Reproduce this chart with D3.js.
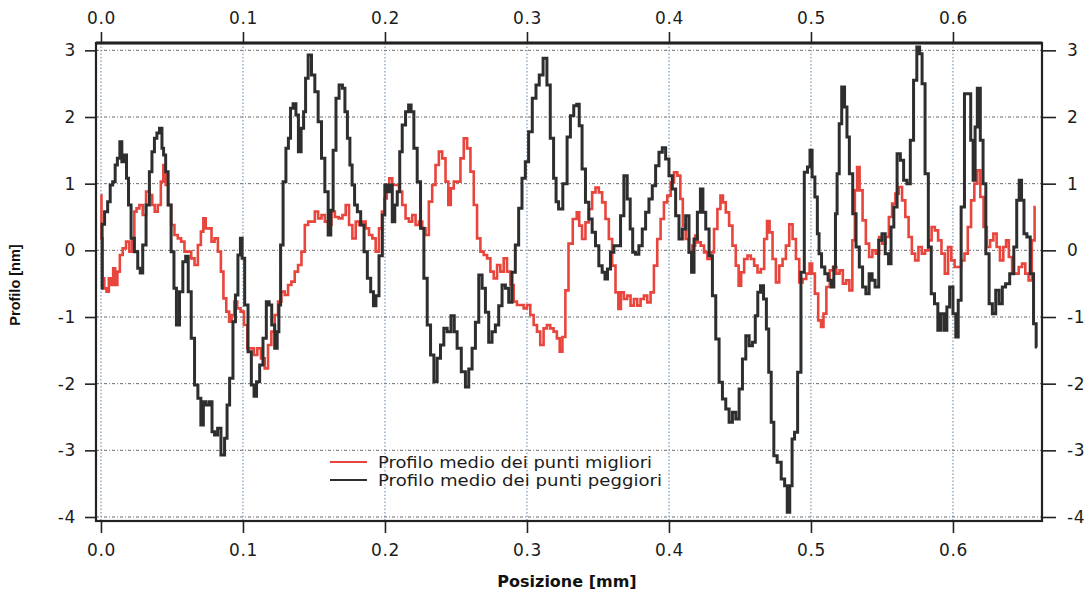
<!DOCTYPE html>
<html>
<head>
<meta charset="utf-8">
<script src="https://cdn.jsdelivr.net/npm/d3@7"></script>
<style>
  body { margin: 0; background: #fff; }
  svg { display: block; }
</style>
</head>
<body>
<svg id="chart" width="1086" height="594"></svg>
<script>
// Tick values
const xTicks = [0, 0.1, 0.2, 0.3, 0.4, 0.5, 0.6];
const yTicks = [-4, -3, -2, -1, 0, 1, 2, 3];
const seriesNames = ["Profilo medio dei punti migliori", "Profilo medio dei punti peggiori"];
const xTitle = "Posizione [mm]";
const yTitle = "Profilo [nm]";

// Mean profile of the best points (mm, nm)
const posBest = [0.0000,0.0007,0.0016,0.0031,0.0047,0.0064,0.0078,0.0094,0.0106,0.0125,0.0141,0.0165,0.0188,0.0212,0.0228,0.0242,0.0259,0.0282,0.0306,0.0329,0.0353,0.0369,0.0388,0.0412,0.0431,0.0447,0.0464,0.0482,0.0506,0.0529,0.0553,0.0576,0.0600,0.0624,0.0647,0.0671,0.0694,0.0713,0.0729,0.0746,0.0769,0.0788,0.0812,0.0835,0.0854,0.0871,0.0894,0.0911,0.0929,0.0948,0.0972,0.0995,0.1019,0.1042,0.1066,0.1089,0.1113,0.1141,0.1165,0.1188,0.1212,0.1235,0.1259,0.1282,0.1306,0.1329,0.1353,0.1376,0.1400,0.1424,0.1447,0.1471,0.1494,0.1518,0.1541,0.1565,0.1588,0.1612,0.1635,0.1659,0.1689,0.1712,0.1735,0.1759,0.1782,0.1806,0.1829,0.1852,0.1876,0.1899,0.1923,0.1946,0.1970,0.1988,0.2005,0.2021,0.2040,0.2063,0.2087,0.2110,0.2133,0.2157,0.2180,0.2204,0.2227,0.2251,0.2274,0.2297,0.2321,0.2344,0.2368,0.2391,0.2415,0.2438,0.2454,0.2473,0.2496,0.2520,0.2543,0.2567,0.2590,0.2614,0.2637,0.2660,0.2684,0.2707,0.2731,0.2754,0.2778,0.2801,0.2824,0.2848,0.2871,0.2895,0.2918,0.2941,0.2965,0.2988,0.3012,0.3035,0.3059,0.3082,0.3105,0.3129,0.3152,0.3176,0.3199,0.3222,0.3239,0.3260,0.3281,0.3304,0.3341,0.3360,0.3376,0.3400,0.3424,0.3447,0.3471,0.3494,0.3518,0.3541,0.3565,0.3588,0.3612,0.3635,0.3652,0.3671,0.3694,0.3718,0.3741,0.3765,0.3788,0.3812,0.3835,0.3859,0.3882,0.3906,0.3929,0.3953,0.3976,0.4000,0.4024,0.4047,0.4071,0.4089,0.4106,0.4129,0.4153,0.4176,0.4193,0.4212,0.4235,0.4259,0.4282,0.4306,0.4329,0.4353,0.4372,0.4388,0.4412,0.4435,0.4459,0.4482,0.4499,0.4518,0.4541,0.4565,0.4588,0.4612,0.4635,0.4659,0.4682,0.4699,0.4718,0.4741,0.4765,0.4788,0.4812,0.4835,0.4859,0.4882,0.4906,0.4929,0.4953,0.4981,0.5000,0.5016,0.5039,0.5063,0.5079,0.5097,0.5120,0.5144,0.5167,0.5190,0.5213,0.5236,0.5259,0.5282,0.5301,0.5317,0.5333,0.5352,0.5375,0.5398,0.5421,0.5444,0.5468,0.5491,0.5514,0.5537,0.5560,0.5583,0.5606,0.5630,0.5653,0.5676,0.5699,0.5722,0.5745,0.5769,0.5792,0.5815,0.5838,0.5861,0.5884,0.5907,0.5931,0.5954,0.5977,0.6000,0.6023,0.6046,0.6069,0.6093,0.6116,0.6139,0.6162,0.6181,0.6204,0.6227,0.6250,0.6273,0.6296,0.6319,0.6343,0.6366,0.6382,0.6405,0.6428,0.6451,0.6475,0.6498,0.6521,0.6544,0.6567,0.6583];
const profBest = [0.83,0.18,-0.42,-0.57,-0.62,-0.42,-0.52,-0.27,-0.52,-0.32,-0.07,0.03,0.13,-0.02,0.18,0.58,0.63,0.68,0.53,0.88,0.83,0.68,0.58,0.68,1.03,1.28,0.98,0.68,0.38,0.23,0.18,0.13,-0.02,-0.02,-0.12,-0.22,0.08,0.28,0.48,0.33,0.33,0.13,0.18,-0.02,-0.32,-0.72,-0.92,-1.07,-0.97,-0.77,-0.87,-0.92,-1.12,-1.47,-1.47,-1.57,-1.47,-1.62,-1.77,-1.42,-1.22,-0.97,-0.77,-0.62,-0.67,-0.52,-0.47,-0.32,-0.22,-0.02,0.38,0.43,0.43,0.58,0.48,0.53,0.43,0.38,0.58,0.50,0.48,0.53,0.68,0.38,0.18,0.43,0.38,0.43,0.33,0.23,0.18,-0.02,0.33,0.58,0.78,0.98,1.08,0.98,0.98,0.88,0.68,0.48,0.43,0.53,0.38,0.43,0.33,0.23,0.73,0.98,1.28,1.48,1.38,1.03,0.68,0.93,1.03,1.03,1.38,1.68,1.53,1.18,0.68,0.18,-0.02,-0.07,-0.12,-0.32,-0.42,-0.22,-0.32,-0.12,-0.32,-0.52,-0.77,-0.82,-0.82,-0.87,-0.82,-0.97,-1.12,-1.22,-1.42,-1.17,-1.12,-1.17,-1.22,-1.32,-1.52,-1.30,-0.60,0.10,0.47,0.57,0.37,0.17,0.42,0.62,0.87,0.94,0.87,0.72,0.47,0.17,-0.23,-0.63,-0.88,-0.63,-0.73,-0.68,-0.83,-0.73,-0.83,-0.73,-0.68,-0.78,-0.63,-0.23,0.17,0.47,0.72,0.82,1.02,1.17,1.12,0.77,0.37,0.17,-0.03,0.07,0.22,0.12,0.07,-0.03,-0.13,-0.03,0.32,0.62,0.82,0.72,0.57,0.37,0.07,-0.23,-0.53,-0.33,-0.13,-0.08,-0.13,-0.23,-0.33,-0.28,0.17,0.44,0.27,-0.13,-0.48,-0.23,-0.13,0.07,0.39,0.17,-0.13,-0.48,-0.43,-0.35,-0.20,-0.35,-0.65,-1.05,-1.15,-0.95,-0.55,-0.30,-0.25,-0.35,-0.30,-0.50,-0.45,-0.60,0.15,0.90,1.25,0.90,0.45,0.10,-0.10,0.00,-0.05,0.20,0.10,0.20,0.50,0.70,0.85,0.95,0.75,0.50,0.20,-0.05,-0.15,0.05,-0.05,0.00,0.15,0.35,0.30,0.15,-0.05,-0.35,0.05,-0.15,-0.25,-0.25,-0.15,-0.05,0.35,0.75,1.00,1.20,0.80,0.35,0.05,0.15,0.25,0.05,-0.15,0.05,0.15,-0.10,-0.35,-0.35,-0.25,-0.20,-0.35,-0.45,0.15,0.65];

// Mean profile of the worst points (mm, nm)
const posWorst = [0.0000,0.0016,0.0035,0.0059,0.0071,0.0094,0.0106,0.0125,0.0141,0.0153,0.0172,0.0188,0.0200,0.0224,0.0247,0.0271,0.0282,0.0306,0.0329,0.0353,0.0365,0.0388,0.0400,0.0424,0.0435,0.0447,0.0464,0.0482,0.0506,0.0522,0.0541,0.0565,0.0588,0.0605,0.0624,0.0647,0.0671,0.0694,0.0713,0.0729,0.0753,0.0776,0.0788,0.0812,0.0831,0.0859,0.0882,0.0894,0.0918,0.0941,0.0953,0.0976,0.0988,0.1000,0.1024,0.1047,0.1071,0.1085,0.1106,0.1129,0.1153,0.1176,0.1193,0.1212,0.1235,0.1247,0.1259,0.1271,0.1294,0.1311,0.1329,0.1341,0.1365,0.1381,0.1400,0.1419,0.1435,0.1447,0.1471,0.1494,0.1518,0.1541,0.1565,0.1588,0.1612,0.1625,0.1645,0.1665,0.1689,0.1712,0.1724,0.1747,0.1759,0.1778,0.1794,0.1817,0.1841,0.1864,0.1888,0.1911,0.1927,0.1946,0.1970,0.1993,0.2005,0.2021,0.2040,0.2063,0.2075,0.2098,0.2110,0.2133,0.2157,0.2176,0.2192,0.2215,0.2239,0.2262,0.2286,0.2309,0.2333,0.2356,0.2379,0.2403,0.2426,0.2450,0.2480,0.2496,0.2520,0.2555,0.2578,0.2602,0.2625,0.2649,0.2672,0.2696,0.2719,0.2742,0.2766,0.2789,0.2813,0.2836,0.2860,0.2883,0.2906,0.2930,0.2953,0.2977,0.3000,0.3023,0.3052,0.3075,0.3098,0.3129,0.3152,0.3176,0.3199,0.3211,0.3234,0.3271,0.3294,0.3318,0.3341,0.3360,0.3376,0.3400,0.3424,0.3447,0.3471,0.3494,0.3518,0.3541,0.3558,0.3576,0.3600,0.3624,0.3647,0.3671,0.3694,0.3718,0.3736,0.3753,0.3776,0.3800,0.3824,0.3847,0.3871,0.3894,0.3918,0.3941,0.3965,0.3988,0.4012,0.4035,0.4059,0.4082,0.4106,0.4129,0.4153,0.4165,0.4188,0.4212,0.4231,0.4247,0.4271,0.4294,0.4318,0.4341,0.4365,0.4388,0.4412,0.4435,0.4459,0.4482,0.4506,0.4529,0.4553,0.4576,0.4600,0.4616,0.4635,0.4654,0.4678,0.4694,0.4711,0.4729,0.4748,0.4776,0.4805,0.4824,0.4842,0.4859,0.4875,0.4894,0.4918,0.4941,0.4965,0.4986,0.5000,0.5016,0.5039,0.5051,0.5063,0.5086,0.5109,0.5132,0.5155,0.5167,0.5178,0.5190,0.5208,0.5225,0.5248,0.5259,0.5282,0.5306,0.5329,0.5352,0.5375,0.5398,0.5421,0.5440,0.5463,0.5491,0.5509,0.5537,0.5556,0.5572,0.5595,0.5618,0.5641,0.5664,0.5688,0.5711,0.5734,0.5757,0.5773,0.5792,0.5815,0.5838,0.5856,0.5884,0.5903,0.5926,0.5949,0.5965,0.5988,0.6012,0.6028,0.6046,0.6069,0.6093,0.6116,0.6134,0.6150,0.6162,0.6181,0.6204,0.6220,0.6243,0.6266,0.6289,0.6313,0.6336,0.6359,0.6382,0.6417,0.6440,0.6458,0.6475,0.6491,0.6509,0.6532,0.6556,0.6579,0.6593];
const profWorst = [-0.57,0.39,0.58,0.73,0.98,1.03,1.28,1.38,1.63,1.33,1.43,1.08,0.68,0.18,-0.02,-0.27,-0.34,0.08,0.68,1.18,1.48,1.68,1.76,1.83,1.53,1.43,1.18,0.68,-0.02,-0.57,-1.12,-0.62,-0.17,-0.09,-0.62,-1.32,-2.02,-2.22,-2.62,-2.27,-2.32,-2.27,-2.72,-2.77,-2.67,-3.07,-2.82,-2.32,-1.92,-1.07,-0.67,-0.07,0.18,-0.12,-0.82,-1.52,-2.02,-2.19,-1.97,-1.72,-1.32,-0.77,-0.82,-1.12,-1.47,-1.22,-0.82,0.08,1.03,1.53,1.68,2.13,2.20,2.03,1.48,1.83,2.08,2.58,2.93,2.63,2.38,1.93,1.38,0.88,0.23,0.60,1.50,2.28,2.48,2.43,2.08,1.68,1.28,0.98,0.68,0.58,0.38,-0.02,-0.42,-0.62,-0.83,-0.68,-0.08,0.53,0.98,0.88,0.98,0.43,0.68,0.88,1.48,1.88,2.08,2.18,2.08,1.53,1.03,0.33,-0.42,-1.12,-1.57,-1.97,-1.62,-1.42,-1.17,-1.22,-0.98,-1.22,-1.47,-1.82,-2.05,-1.78,-1.47,-1.08,-0.37,-0.57,-0.93,-1.38,-1.22,-1.12,-0.83,-0.52,-0.57,-0.78,-0.33,0.08,0.63,1.08,1.33,1.78,2.28,2.48,2.63,2.88,2.48,1.68,1.08,0.73,0.62,1.00,1.70,2.02,2.17,2.19,1.87,1.22,0.72,0.47,0.27,0.07,-0.23,-0.33,-0.43,-0.28,-0.03,0.07,0.07,0.52,1.12,0.77,0.32,-0.03,-0.06,0.07,0.32,0.57,0.77,0.97,1.27,1.47,1.54,1.37,1.12,0.92,0.52,0.17,0.32,0.52,-0.03,-0.33,0.17,0.57,0.92,0.57,0.32,-0.08,-0.68,-1.33,-1.98,-2.23,-2.38,-2.58,-2.43,-2.53,-2.08,-1.63,-1.28,-1.43,-1.38,-0.98,-0.63,-0.53,-0.73,-1.18,-1.83,-2.58,-3.08,-3.18,-3.43,-3.53,-3.93,-3.53,-2.83,-2.73,-1.83,-0.33,1.17,1.25,1.50,1.10,0.80,0.25,-0.05,-0.25,-0.35,-0.45,-0.55,-0.25,0.55,1.15,1.90,2.45,2.15,1.70,1.15,0.55,0.05,-0.25,-0.55,-0.65,-0.35,-0.45,-0.55,0.15,0.25,-0.05,-0.20,0.35,0.65,1.45,1.35,1.05,1.00,1.65,2.55,3.05,2.95,2.50,1.15,0.05,-0.65,-0.80,-1.20,-0.95,-1.20,-0.85,-0.55,-0.95,-1.30,-0.75,0.65,2.35,2.35,1.65,1.05,1.85,2.43,1.65,1.00,-0.05,-0.80,-0.95,-0.60,-0.80,-0.55,-0.50,-0.35,0.05,0.75,1.05,0.75,0.25,0.20,-0.35,-1.10,-1.45];

const series = [
  { name: seriesNames[0], pos: posBest, val: profBest, color: "#e8453c", width: 2.6 },
  { name: seriesNames[1], pos: posWorst, val: profWorst, color: "#2e2e2e", width: 3 }
];

const FONT = "\"DejaVu Sans\", \"Liberation Sans\", sans-serif";
const svg = d3.select("#chart");
const frame = { left: 96, right: 1042, top: 43, bottom: 521 };

const x = d3.scaleLinear().domain([-0.0035, 0.6627]).range([frame.left, frame.right]);
const y = d3.scaleLinear().domain([-4.06, 3.11]).range([frame.bottom, frame.top]);

svg.append("rect").attr("width", 1086).attr("height", 594).attr("fill", "#ffffff");

// Grid
const grid = svg.append("g");
grid.selectAll("line.h").data(yTicks).join("line")
  .attr("x1", frame.left).attr("x2", frame.right)
  .attr("y1", d => y(d)).attr("y2", d => y(d))
  .attr("stroke", "#6b6b6b").attr("stroke-width", 1)
  .attr("stroke-dasharray", "3,2,1,2");
grid.selectAll("line.v").data(xTicks).join("line")
  .attr("x1", d => x(d)).attr("x2", d => x(d))
  .attr("y1", frame.top).attr("y2", frame.bottom)
  .attr("stroke", "#6f8fae").attr("stroke-width", 1.1)
  .attr("stroke-dasharray", "1.5,2");

// Curves
svg.append("clipPath").attr("id", "plotClip")
  .append("rect").attr("x", frame.left).attr("y", frame.top)
  .attr("width", frame.right - frame.left).attr("height", frame.bottom - frame.top);

const line = d3.line()
  .x(d => x(d[0])).y(d => y(d[1]))
  .curve(d3.curveStep);

const plot = svg.append("g").attr("clip-path", "url(#plotClip)");
series.forEach(s => {
  plot.append("path")
    .datum(s.pos.map((p, i) => [p, s.val[i]]))
    .attr("fill", "none")
    .attr("stroke", s.color)
    .attr("stroke-width", s.width)
    .attr("stroke-linejoin", "miter")
    .attr("d", line);
});

// Frame
svg.append("rect")
  .attr("x", frame.left).attr("y", frame.top)
  .attr("width", frame.right - frame.left).attr("height", frame.bottom - frame.top)
  .attr("fill", "none").attr("stroke", "#222").attr("stroke-width", 2.2);
svg.append("line")
  .attr("x1", frame.left).attr("x2", frame.right)
  .attr("y1", frame.top).attr("y2", frame.top)
  .attr("stroke", "#222").attr("stroke-width", 3);

// Axes
const fmtX = d3.format(".1f");
const fmtY = d => String(d);
function styleAxis(g) {
  g.select(".domain").remove();
  g.attr("font-family", FONT).attr("font-size", 17);
  g.selectAll(".tick line").attr("stroke", "#222").attr("stroke-width", 1.6);
  g.selectAll(".tick text").attr("fill", "#1c1c1c")
    .attr("font-family", FONT).attr("font-size", 17)
    .attr("letter-spacing", "0.6px");
}
svg.append("g").attr("transform", `translate(0,${frame.top})`)
  .call(d3.axisTop(x).tickValues(xTicks).tickFormat(fmtX).tickSize(11).tickPadding(8))
  .call(styleAxis);
svg.append("g").attr("transform", `translate(0,${frame.bottom})`)
  .call(d3.axisBottom(x).tickValues(xTicks).tickFormat(fmtX).tickSize(12).tickPadding(11))
  .call(styleAxis);
svg.append("g").attr("transform", `translate(${frame.left},0)`)
  .call(d3.axisLeft(y).tickValues(yTicks).tickFormat(fmtY).tickSize(11).tickPadding(9))
  .call(styleAxis);
svg.append("g").attr("transform", `translate(${frame.right},0)`)
  .call(d3.axisRight(y).tickValues(yTicks).tickFormat(fmtY).tickSize(14).tickPadding(11))
  .call(styleAxis);

// Axis titles
svg.append("text")
  .attr("transform", "translate(20,285) rotate(-90)")
  .attr("text-anchor", "middle")
  .attr("font-size", 14.5).attr("font-weight", "bold")
  .attr("font-family", "\"Liberation Sans\", Arial, sans-serif")
  .attr("fill", "#111")
  .text(yTitle);
svg.append("text")
  .attr("x", 567).attr("y", 587)
  .attr("text-anchor", "middle")
  .attr("font-size", 16).attr("font-weight", "bold")
  .attr("font-family", FONT)
  .attr("fill", "#111")
  .text(xTitle);

// Legend
const legend = svg.append("g").attr("transform", "translate(330,462)");
series.forEach((s, i) => {
  const row = legend.append("g").attr("transform", `translate(0,${i * 18})`);
  row.append("line").attr("x1", 0).attr("x2", 37).attr("y1", 0).attr("y2", 0)
    .attr("stroke", s.color).attr("stroke-width", 2);
  row.append("text").attr("x", 48).attr("y", 0).attr("dy", "0.36em")
    .attr("font-family", FONT).attr("font-size", 16.5)
    .attr("fill", "#1c1c1c")
    .attr("textLength", i === 0 ? 274 : 284)
    .attr("lengthAdjust", "spacingAndGlyphs")
    .text(s.name);
});
</script>
</body>
</html>
